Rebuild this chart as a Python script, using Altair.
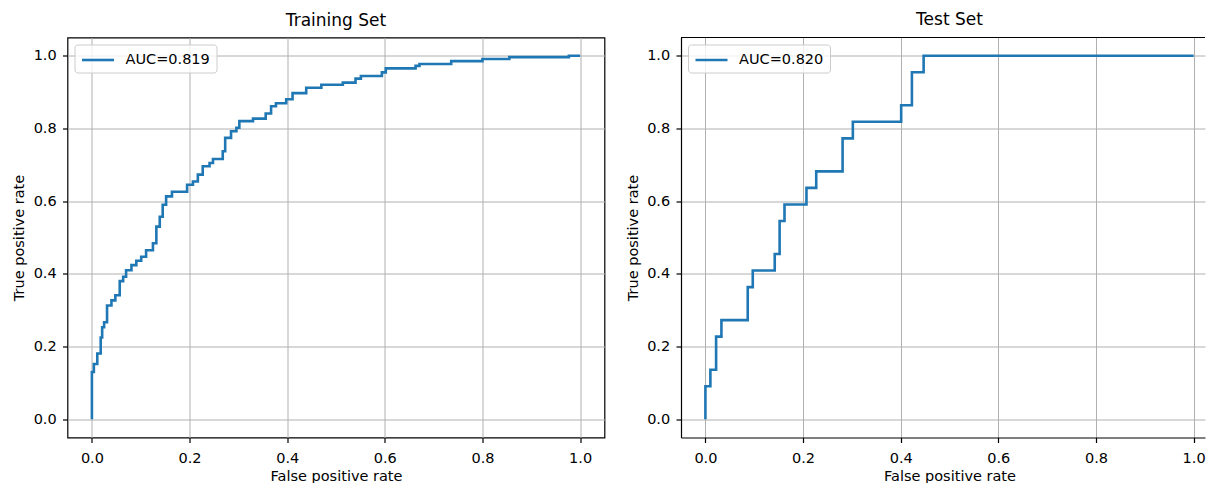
import altair as alt
import pandas as pd

# ROC vertices (fpr, tpr reached at that fpr)
train_fpr = [0.000, 0.000, 0.004, 0.011, 0.018, 0.021, 0.025, 0.031, 0.040, 0.048,
             0.057, 0.064, 0.070, 0.081, 0.091, 0.101, 0.111, 0.125, 0.132, 0.139,
             0.145, 0.152, 0.164, 0.195, 0.207, 0.217, 0.227, 0.241, 0.248, 0.268,
             0.273, 0.285, 0.296, 0.302, 0.330, 0.356, 0.367, 0.377, 0.398, 0.411,
             0.439, 0.470, 0.514, 0.540, 0.551, 0.594, 0.602, 0.663, 0.671, 0.736,
             0.800, 0.855, 0.977, 1.000]
train_tpr = [0.000, 0.130, 0.152, 0.181, 0.225, 0.253, 0.267, 0.313, 0.327, 0.341,
             0.380, 0.392, 0.410, 0.424, 0.436, 0.447, 0.465, 0.484, 0.530, 0.557,
             0.590, 0.613, 0.626, 0.645, 0.654, 0.673, 0.696, 0.705, 0.716, 0.737,
             0.774, 0.792, 0.802, 0.820, 0.827, 0.841, 0.861, 0.869, 0.880, 0.897,
             0.912, 0.920, 0.926, 0.937, 0.944, 0.954, 0.965, 0.972, 0.977, 0.985,
             0.991, 0.996, 1.000, 1.000]

test_fpr = [0.000, 0.000, 0.0102, 0.0219, 0.0328, 0.0867, 0.097, 0.142, 0.152,
            0.162, 0.207, 0.227, 0.281, 0.302, 0.401, 0.423, 0.447, 1.000]
test_tpr = [0.000, 0.0909, 0.1364, 0.2273, 0.2727, 0.3636, 0.4091, 0.4545, 0.5455,
            0.5909, 0.6364, 0.6818, 0.7727, 0.8182, 0.8636, 0.9545, 1.000, 1.000]

train_label = "AUC=0.819"
test_label = "AUC=0.820"
panel_titles = ["Training Set", "Test Set"]
tick_values = [0.0, 0.2, 0.4, 0.6, 0.8, 1.0]
axis_lo, axis_hi = -0.05, 1.05

FONT = "DejaVu Sans"
LINE_COLOR = "#1f77b4"
PX_PER_UNIT = 537 / (axis_hi - axis_lo)


def panel(fpr, tpr, label, title, width, framed):
    df = pd.DataFrame({
        "fpr": fpr,
        "tpr": tpr,
        "series": [label] * len(fpr),
        "order": list(range(len(fpr))),
    })
    x_hi = axis_lo + width / PX_PER_UNIT
    shift = (537 - width) / 2
    title_params = alt.TitleParams(title, fontSize=17, font=FONT,
                                   fontWeight="normal", color="black",
                                   offset=7.5, dx=shift)
    x_axis = alt.Axis(values=tick_values, format=".1f", title="False positive rate",
                      titleX=537 / 2, domain=not framed, domainColor="black",
                      domainWidth=1.2)
    y_axis = alt.Axis(values=tick_values, format=".1f", title="True positive rate",
                      domain=not framed, domainColor="black", domainWidth=1.2)
    line = (
        alt.Chart(df)
        .mark_line(interpolate="step-after", strokeWidth=2.6)
        .encode(
            x=alt.X("fpr:Q",
                    scale=alt.Scale(domain=[axis_lo, x_hi], nice=False, zero=False),
                    axis=x_axis),
            y=alt.Y("tpr:Q",
                    scale=alt.Scale(domain=[axis_lo, axis_hi], nice=False, zero=False),
                    axis=y_axis),
            order="order:Q",
            color=alt.Color("series:N",
                            scale=alt.Scale(range=[LINE_COLOR]),
                            legend=alt.Legend(title=None, orient="top-left",
                                              offset=7)),
        )
    )
    if framed:
        return line.properties(width=width, height=400, title=title_params)
    top = (
        alt.Chart(pd.DataFrame({"top": [axis_hi]}))
        .mark_rule(color="black", strokeWidth=1.2)
        .encode(y=alt.datum(axis_hi))
    )
    return alt.layer(line, top).properties(
        width=width, height=400, title=title_params,
        view=alt.ViewBackground(stroke="transparent"),
    )


left = panel(train_fpr, train_tpr, train_label, panel_titles[0], 537, True)
right = panel(test_fpr, test_tpr, test_label, panel_titles[1], 524, False)

chart = (
    alt.hconcat(left, right, spacing=18.5)
    .resolve_scale(color="independent")
    .properties(padding={"left": 2.5, "top": 2.5, "right": 0, "bottom": 0})
    .configure_view(stroke="black", strokeWidth=1.2)
    .configure_axis(
        labelFont=FONT, labelFontSize=14.5, labelColor="black",
        titleFont=FONT, titleFontSize=14.5, titleFontWeight="normal",
        titleColor="black", tickColor="black", tickSize=5, tickWidth=1.2,
        gridColor="#b0b0b0", gridWidth=1, gridOpacity=1,
        labelFlush=False,
    )
    .configure_axisX(labelPadding=8.5, titlePadding=5)
    .configure_axisY(labelPadding=6.3, titlePadding=6.3)
    .configure_legend(
        fillColor="rgba(255,255,255,0.8)", strokeColor="#cccccc",
        cornerRadius=3, padding=6, symbolType="M-2,0H2", symbolSize=256,
        symbolOffset=8, symbolStrokeWidth=2.6, labelFont=FONT, labelFontSize=14.5,
        labelColor="black", labelOffset=18,
    )
)

chart.save("out.html", embed_options={"renderer": "svg", "actions": False})
